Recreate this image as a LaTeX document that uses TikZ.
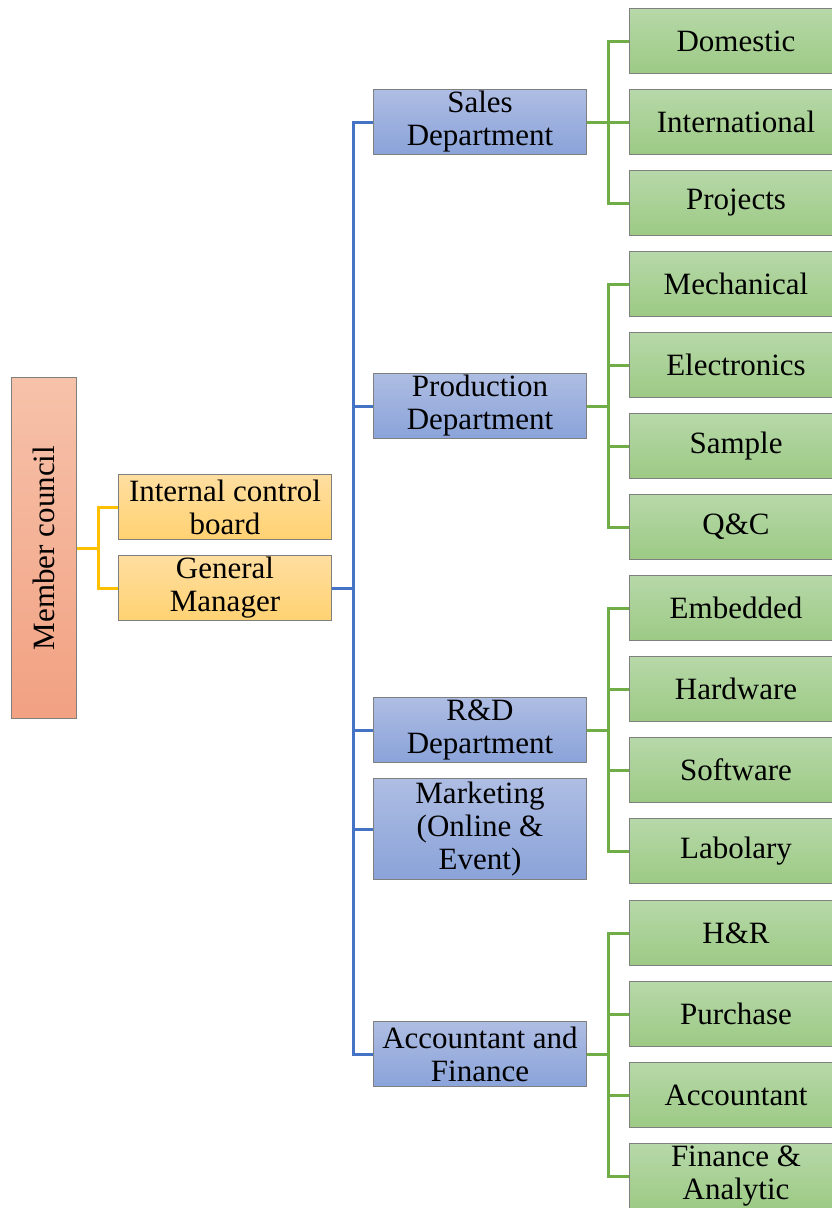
\documentclass[tikz,border=0pt]{standalone}
\usepackage{fontspec}
\setmainfont{Liberation Serif}
\definecolor{bordergray}{HTML}{7F7F7F}
\definecolor{ylw}{HTML}{FFC000}
\definecolor{blu}{HTML}{4472C4}
\definecolor{grn}{HTML}{70AD47}
\definecolor{mcTop}{HTML}{F6C2AA}\definecolor{mcBot}{HTML}{F2A182}
\definecolor{yTop}{HTML}{FFDEA0}\definecolor{yBot}{HTML}{FFD272}
\definecolor{bTop}{HTML}{AEBDE3}\definecolor{bBot}{HTML}{8AA3D9}
\definecolor{gTop}{HTML}{B7D8A9}\definecolor{gBot}{HTML}{9CCA84}
\tikzset{
  box/.style={draw=bordergray, line width=1pt, align=center, inner sep=0pt,
    font=\fontsize{31}{33}\selectfont, anchor=north west},
  mcbox/.style={box, top color=mcTop, bottom color=mcBot},
  ybox/.style={box, top color=yTop, bottom color=yBot, minimum width=213, minimum height=65},
  bbox/.style={box, top color=bTop, bottom color=bBot, minimum width=213, minimum height=65},
  gbox/.style={box, top color=gTop, bottom color=gBot, minimum width=225, minimum height=65},
  yline/.style={draw=ylw, line width=3pt},
  bline/.style={draw=blu, line width=3pt},
  gline/.style={draw=grn, line width=3pt},
}
\begin{document}
\begin{tikzpicture}[x=1pt,y=1pt]
\useasboundingbox (0,0) rectangle (832,-1208);
% level 0
\node[mcbox, minimum width=65, minimum height=341] (mc) at (11,-377) {};
\node[rotate=90, font=\fontsize{31}{33}\selectfont] (mct) at (mc.center) {Member council};
% level 1
\node[ybox] (icb) at (118,-474) {Internal control\\board};
\node[ybox] (gm) at (118,-555) {General\\Manager};
% level 2
\node[bbox] (sales) at (373,-89) {Sales\\Department};
\node[bbox] (prod) at (373,-373) {Production\\Department};
\node[bbox] (rd) at (373,-697) {R\&D\\Department};
\node[bbox, minimum height=101] (mkt) at (373,-778) {Marketing\\(Online \&\\Event)};
\node[bbox] (acc) at (373,-1021) {Accountant and\\Finance};
% level 3
\node[gbox] (dom) at (629,-8) {\hspace*{-12pt}Domestic};
\node[gbox] (intl) at (629,-89) {\hspace*{-12pt}International};
\node[gbox] (proj) at (629,-170) {\hspace*{-12pt}Projects};
\node[gbox] (mech) at (629,-251) {\hspace*{-12pt}Mechanical};
\node[gbox] (elec) at (629,-332) {\hspace*{-12pt}Electronics};
\node[gbox] (samp) at (629,-413) {\hspace*{-12pt}Sample};
\node[gbox] (qc) at (629,-494) {\hspace*{-12pt}Q\&C};
\node[gbox] (emb) at (629,-575) {\hspace*{-12pt}Embedded};
\node[gbox] (hw) at (629,-656) {\hspace*{-12pt}Hardware};
\node[gbox] (sw) at (629,-737) {\hspace*{-12pt}Software};
\node[gbox] (lab) at (629,-818) {\hspace*{-12pt}Labolary};
\node[gbox] (hr) at (629,-900) {\hspace*{-12pt}H\&R};
\node[gbox] (pur) at (629,-981) {\hspace*{-12pt}Purchase};
\node[gbox] (acct) at (629,-1062) {\hspace*{-12pt}Accountant};
\node[gbox, minimum height=66] (fin) at (629,-1143) {\hspace*{-12pt}Finance \&\\\hspace*{-12pt}Analytic};
% connectors
\draw[yline] (mc.east) -- +(21,0) |- (icb.west);
\draw[yline] (mc.east) -- +(21,0) |- (gm.west);
\foreach \t in {sales,prod,rd,mkt,acc}
  \draw[bline] (gm.east) -- +(21,0) |- (\t.west);
\foreach \t in {dom,intl,proj}
  \draw[gline] (sales.east) -- +(21,0) |- (\t.west);
\foreach \t in {mech,elec,samp,qc}
  \draw[gline] (prod.east) -- +(21,0) |- (\t.west);
\foreach \t in {emb,hw,sw,lab}
  \draw[gline] (rd.east) -- +(21,0) |- (\t.west);
\foreach \t in {hr,pur,acct,fin}
  \draw[gline] (acc.east) -- +(21,0) |- (\t.west);
\end{tikzpicture}
\end{document}
